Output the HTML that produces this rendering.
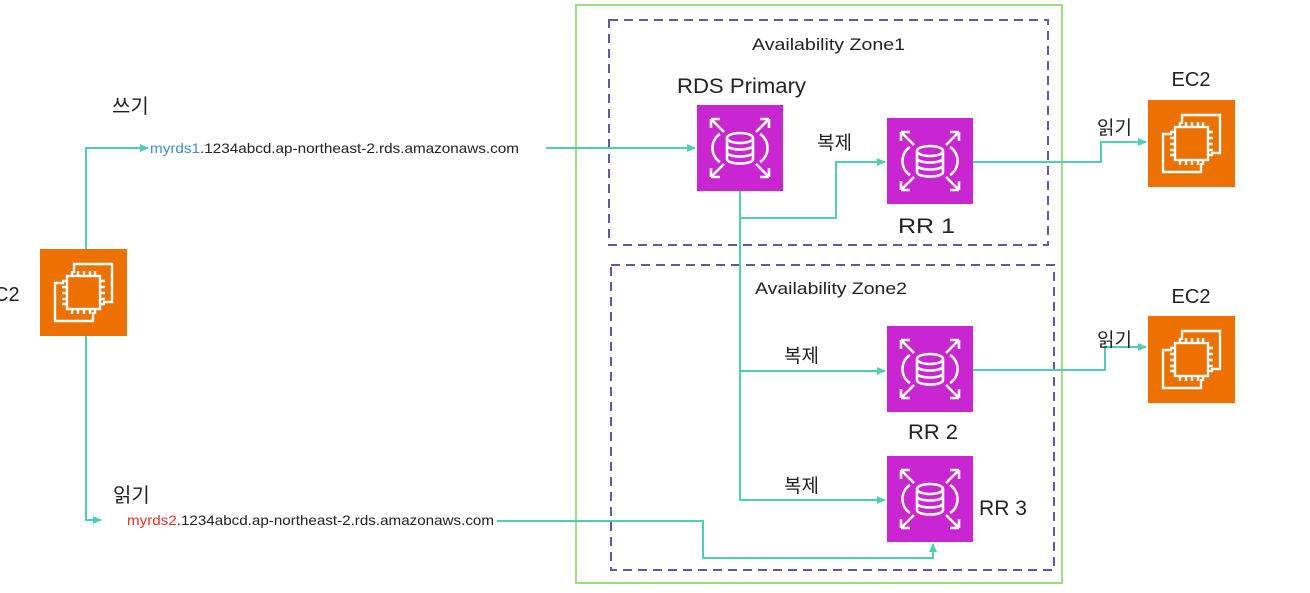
<!DOCTYPE html>
<html><head><meta charset="utf-8"><style>
html,body{margin:0;padding:0;background:#fff;}
svg{display:block;}
text{font-family:"Liberation Sans","Noto Sans CJK KR",sans-serif;fill:#222;}
</style></head><body>
<svg width="1310" height="593" viewBox="0 0 1310 593" xmlns="http://www.w3.org/2000/svg">
<defs>
<marker id="ar" markerWidth="10" markerHeight="10" refX="8" refY="5" orient="auto" markerUnits="userSpaceOnUse">
<path d="M0,1 L9,5 L0,9 z" fill="#4fcdb8"/></marker>
<g id="ec2">
<rect x="0" y="0" width="87" height="87" fill="#ed7100"/>
<g fill="none" stroke="#fff" stroke-width="2.4">
<path d="M34 24 V15 H72 V53 H63"/>
<path d="M24 34 H15 V72 H53 V63"/>
<rect x="27" y="27" width="33" height="33"/>
<path d="M32 27v-5M38 27v-5M44 27v-5M50 27v-5M55 27v-5M32 60v5M38 60v5M44 60v5M50 60v5M55 60v5M27 32h-5M27 38h-5M27 44h-5M27 50h-5M27 55h-5M60 32h5M60 38h5M60 44h5M60 50h5M60 55h5"/>
</g></g>
<g id="rds">
<rect x="0" y="0" width="86" height="86" fill="#c925d1"/>
<g fill="none" stroke="#fff" stroke-width="2.6">
<ellipse cx="43" cy="33" rx="13" ry="5"/>
<path d="M30 33v21c0 6 26 6 26 0V33M30 40c0 6 26 6 26 0M30 47c0 6 26 6 26 0"/>
<path d="M23 29c-10 6-10 22 0 28M63 29c10 6 10 22 0 28"/>
<path d="M14 14l13 13M14 14h9M14 14v9M72 14l-13 13M72 14h-9M72 14v9M14 72l13-13M14 72h9M14 72v-9M72 72l-13-13M72 72h-9M72 72v-9"/>
</g></g>
</defs>
<rect x="576" y="5" width="486" height="578" fill="none" stroke="#9fdc84" stroke-width="2"/>
<rect x="609" y="20" width="439" height="225" fill="none" stroke="#5a5aa5" stroke-width="2" stroke-dasharray="9,6"/>
<rect x="611" y="265" width="443" height="305" fill="none" stroke="#5a5aa5" stroke-width="2" stroke-dasharray="9,6"/>
<text x="752" y="50" font-size="17" textLength="153" lengthAdjust="spacingAndGlyphs">Availability Zone1</text>
<text x="755" y="294" font-size="17" textLength="152" lengthAdjust="spacingAndGlyphs">Availability Zone2</text>

<g fill="none" stroke="#4fcdb8" stroke-width="2">
<path d="M86 249 V148 H148" marker-end="url(#ar)"/>
<path d="M546 148 H695" marker-end="url(#ar)"/>
<path d="M86 336 V520 H101" marker-end="url(#ar)"/>
<path d="M497 521 H703 V558 H933 V544" marker-end="url(#ar)"/>
<path d="M740 191 V500 H885" marker-end="url(#ar)"/>
<path d="M740 218 H836 V162 H885" marker-end="url(#ar)"/>
<path d="M740 371 H885" marker-end="url(#ar)"/>
<path d="M973 162 H1101 V142 H1146" marker-end="url(#ar)"/>
<path d="M973 370 H1105 V347 H1146" marker-end="url(#ar)"/>
</g>

<use href="#ec2" x="40" y="249"/>
<use href="#ec2" x="1148" y="100"/>
<use href="#ec2" x="1148" y="316"/>
<use href="#rds" x="697" y="105"/>
<use href="#rds" x="887" y="118"/>
<use href="#rds" x="887" y="326"/>
<use href="#rds" x="887" y="456"/>

<text x="-6" y="301" font-size="20">C2</text>
<text x="112" y="113" font-size="20">쓰기</text>
<text x="113" y="502" font-size="20">읽기</text>
<text x="150" y="153" font-size="14" textLength="369" lengthAdjust="spacingAndGlyphs"><tspan fill="#3a8fc8">myrds1</tspan>.1234abcd.ap-northeast-2.rds.amazonaws.com</text>
<text x="127" y="525" font-size="14" textLength="367" lengthAdjust="spacingAndGlyphs"><tspan fill="#e0322d">myrds2</tspan>.1234abcd.ap-northeast-2.rds.amazonaws.com</text>
<text x="677" y="93" font-size="21" textLength="129" lengthAdjust="spacingAndGlyphs">RDS Primary</text>
<text x="898" y="233" font-size="21" textLength="57" lengthAdjust="spacingAndGlyphs">RR 1</text>
<text x="908" y="439" font-size="21" textLength="50" lengthAdjust="spacingAndGlyphs">RR 2</text>
<text x="979" y="515" font-size="21" textLength="48" lengthAdjust="spacingAndGlyphs">RR 3</text>
<text x="817" y="149" font-size="19">복제</text>
<text x="784" y="362" font-size="19">복제</text>
<text x="784" y="492" font-size="19">복제</text>
<text x="1097" y="134" font-size="19">읽기</text>
<text x="1097" y="346" font-size="19">읽기</text>
<text x="1191" y="86" font-size="20" text-anchor="middle">EC2</text>
<text x="1191" y="303" font-size="20" text-anchor="middle">EC2</text>
</svg>
</body></html>
